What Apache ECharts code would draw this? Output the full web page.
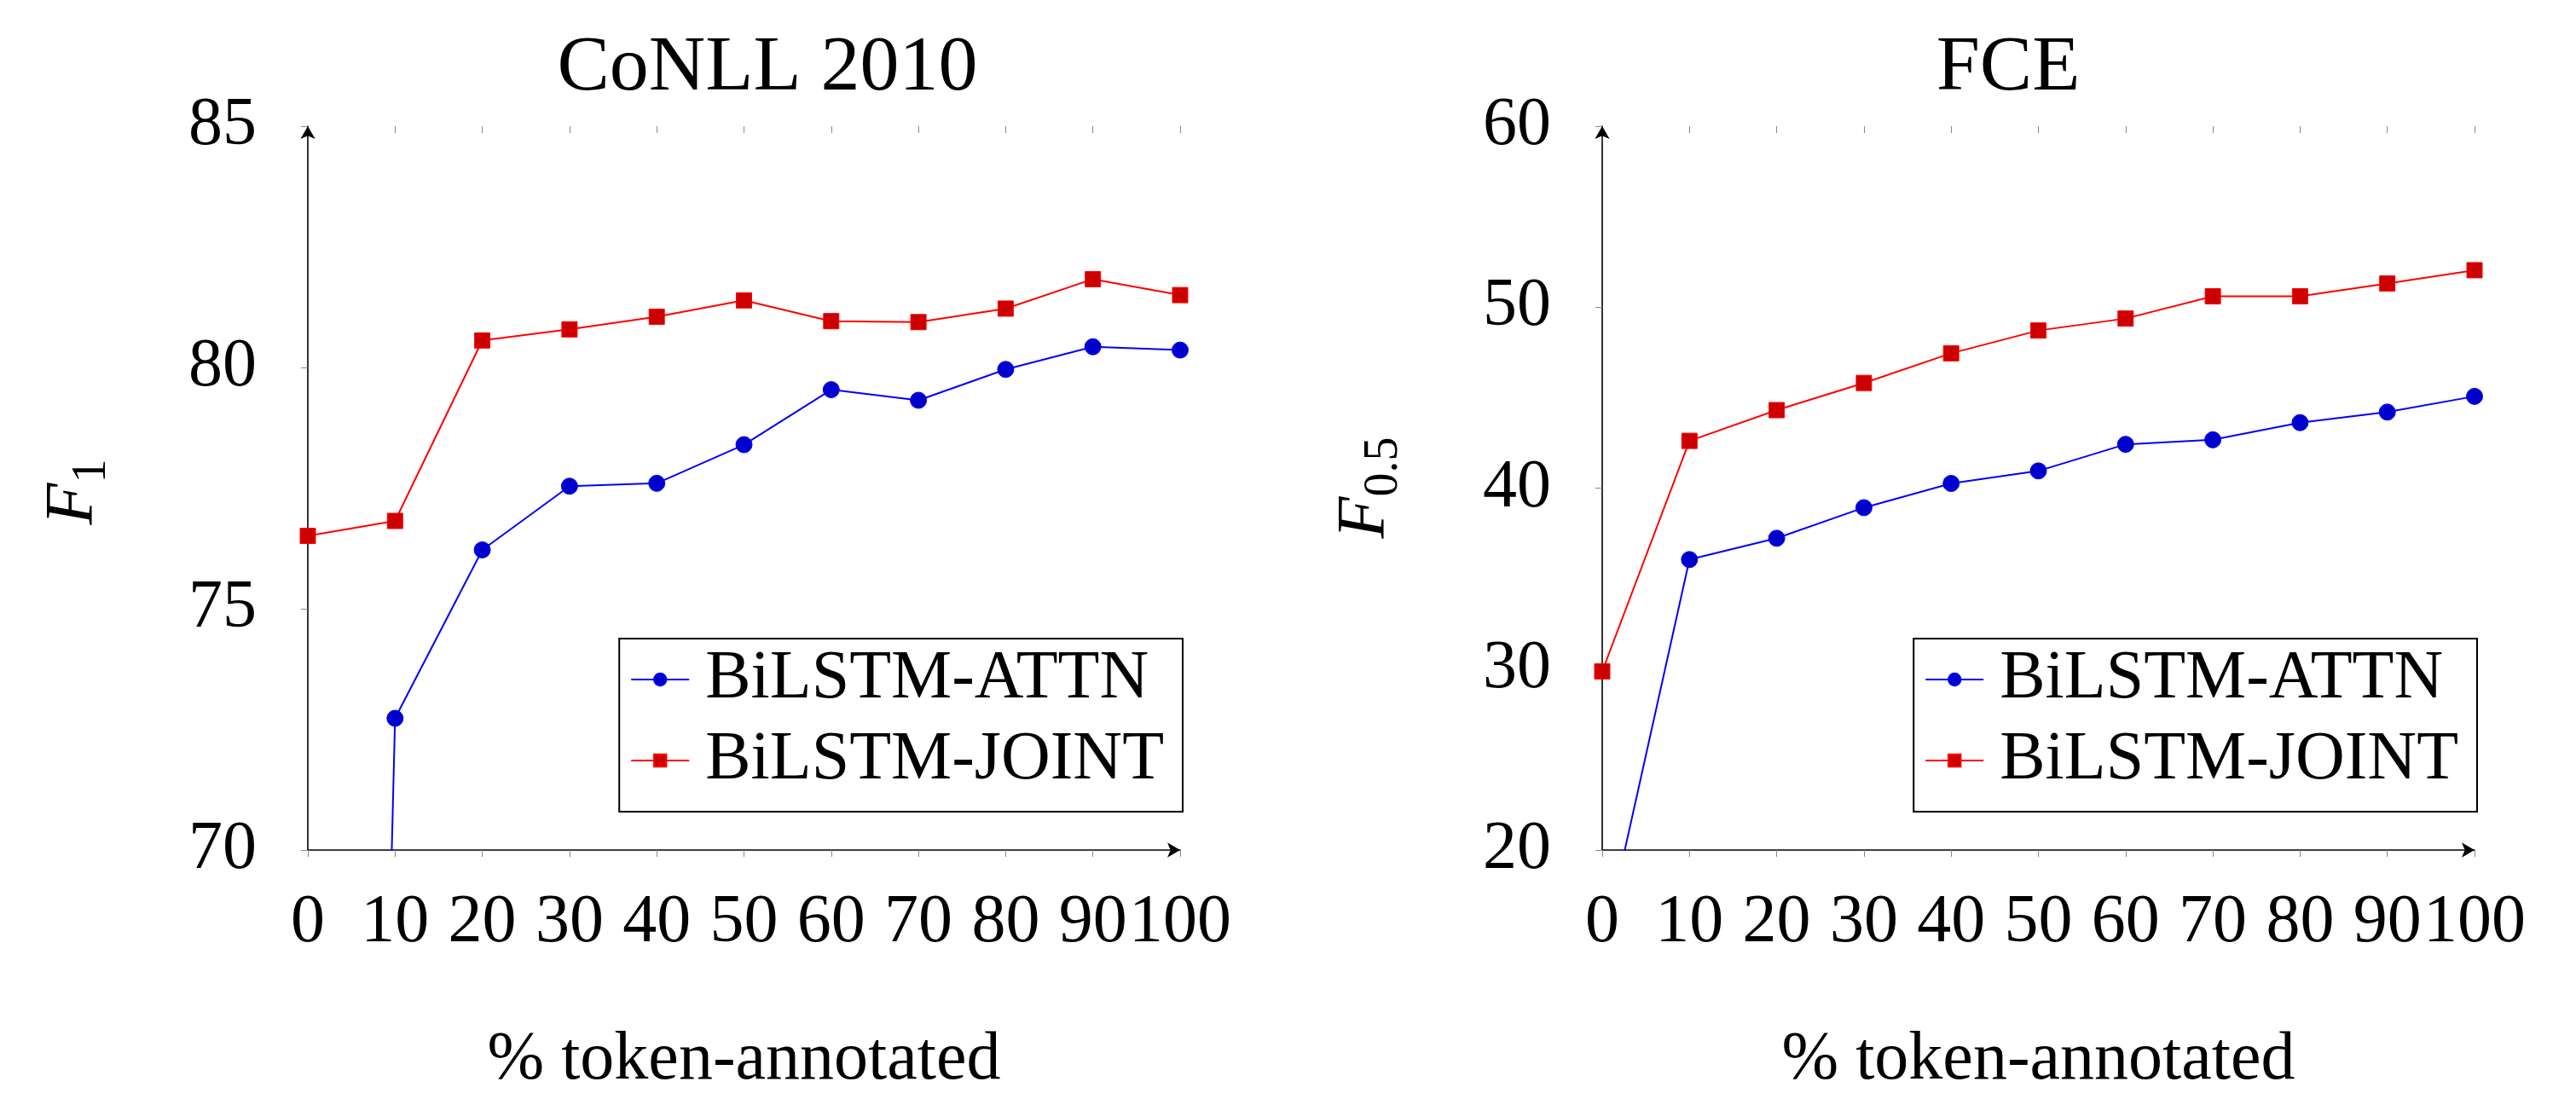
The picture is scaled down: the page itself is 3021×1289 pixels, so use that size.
<!DOCTYPE html>
<html>
<head>
<meta charset="utf-8">
<title>token-annotated</title>
<script src="https://cdn.jsdelivr.net/npm/echarts@6/dist/echarts.min.js"></script>
<style>
  html, body { margin: 0; padding: 0; background: #fff; }
  #main { width: 3021px; height: 1289px; }
</style>
</head>
<body>
<div id="main"></div>
<script>
// % of token-annotated data
const pct = [0, 10, 20, 30, 40, 50, 60, 70, 80, 90, 100];

// CoNLL 2010, F1
const conllAttn = [0, 72.73, 76.22, 77.54, 77.6, 78.4, 79.54, 79.32, 79.96, 80.43, 80.36];
const conllJoint = [76.51, 76.82, 80.56, 80.79, 81.05, 81.39, 80.96, 80.94, 81.22, 81.83, 81.5];

// FCE, F0.5
const fceAttn = [14.4, 36.05, 37.23, 38.92, 40.26, 40.95, 42.42, 42.67, 43.62, 44.2, 45.07];
const fceJoint = [29.87, 42.61, 44.31, 45.81, 47.45, 48.71, 49.37, 50.6, 50.6, 51.31, 52.04];

const seriesNames = ["BiLSTM-ATTN", "BiLSTM-JOINT"];
const titles = ["CoNLL 2010", "FCE"];
const xName = "% token-annotated";

const FONT = "Liberation Serif";
const chart = echarts.init(document.getElementById("main"));

const pairs = (ys) => pct.map((x, i) => [x, ys[i]]);

// main axis (line, outer ticks, labels) + a second one only for the inner half of the ticks
function xAxes(grid, name) {
  return [
    {
      type: "value", gridIndex: grid, min: 0, max: 100, interval: 10,
      name: name, nameLocation: "middle", nameGap: 207,
      nameTextStyle: { fontFamily: FONT, fontSize: 80, color: "#000" },
      axisLine: { show: true, symbol: ["none", "arrow"], symbolSize: [13, 15],
        lineStyle: { color: "#000", width: 1.6 } },
      axisTick: { show: true, inside: false, length: 8, lineStyle: { color: "#888", width: 1 } },
      axisLabel: { margin: 46, fontFamily: FONT, fontSize: 80, color: "#000", hideOverlap: false },
      splitLine: { show: false },
    },
    {
      type: "value", gridIndex: grid, min: 0, max: 100, interval: 10,
      axisLine: { show: false },
      axisTick: { show: true, inside: true, length: 8, lineStyle: { color: "#888", width: 1 } },
      axisLabel: { show: false },
      splitLine: { show: false },
    },
  ];
}

function yAxes(grid, min, max, step) {
  return [
    {
      type: "value", gridIndex: grid, min: min, max: max, interval: step,
      axisLine: { show: true, symbol: ["none", "arrow"], symbolSize: [13, 15],
        lineStyle: { color: "#000", width: 1.6 } },
      axisTick: { show: true, inside: false, length: 8, lineStyle: { color: "#888", width: 1 } },
      axisLabel: { margin: 60, fontFamily: FONT, fontSize: 80, color: "#000" },
      splitLine: { show: false },
    },
    {
      type: "value", gridIndex: grid, min: min, max: max, interval: step,
      axisLine: { show: false },
      axisTick: { show: true, inside: true, length: 8, lineStyle: { color: "#888", width: 1 } },
      axisLabel: { show: false },
      splitLine: { show: false },
    },
  ];
}

function lineSeries(name, data, axis, color, fill, symbol, size) {
  return {
    name: name,
    type: "line",
    xAxisIndex: axis,
    yAxisIndex: axis,
    data: pairs(data),
    symbol: symbol,
    symbolSize: size,
    clip: true,
    lineStyle: { color: color, width: 2 },
    itemStyle: { color: fill, borderColor: color, borderWidth: 1 },
  };
}

function legendAt(right) {
  return {
    data: seriesNames,
    orient: "vertical",
    right: right,
    top: 749,
    padding: [8, 22, 20, 13],
    itemGap: 15,
    itemWidth: 68,
    itemHeight: 18,
    borderColor: "#000",
    borderWidth: 2,
    borderRadius: 0,
    selectedMode: false,
    textStyle: { fontFamily: FONT, fontSize: 80, color: "#000", padding: [0, 0, 0, 14] },
  };
}

function yName(x, y, sub) {
  return {
    type: "text",
    x: x,
    y: y,
    rotation: Math.PI / 2,
    style: {
      text: "{f|F}{s|" + sub + "}",
      align: "center",
      verticalAlign: "middle",
      fill: "#000",
      rich: {
        f: { fontFamily: FONT, fontStyle: "italic", fontSize: 80, verticalAlign: "middle" },
        s: { fontFamily: FONT, fontSize: 56, padding: [43, 0, 0, 0], verticalAlign: "middle" },
      },
    },
  };
}

function titleText(x, text) {
  return {
    type: "text",
    x: x,
    y: 81,
    style: { text: text, fontFamily: FONT, fontSize: 92, fill: "#000",
      align: "center", verticalAlign: "middle" },
  };
}

const option = {
  animation: false,
  backgroundColor: "#fff",
  grid: [
    { left: 361, top: 148, width: 1023, height: 858 },
    { left: 1879, top: 148, width: 1023, height: 858 },
  ],
  xAxis: [...xAxes(0, xName), ...xAxes(1, xName)],
  yAxis: [...yAxes(0, 70, 85, 5), ...yAxes(1, 20, 60, 10)],
  legend: [legendAt(3021 - 1387), legendAt(3021 - 2905)],
  graphic: [
    titleText(900, titles[0]),
    titleText(2355, titles[1]),
    yName(87, 577, "1"),
    yName(1602, 572, "0.5"),
  ],
  series: [
    lineSeries(seriesNames[0], conllAttn, 0, "#0000ff", "#0000cc", "circle", 19),
    lineSeries(seriesNames[1], conllJoint, 0, "#ff0000", "#cc0000", "rect", 18),
    lineSeries(seriesNames[0], fceAttn, 2, "#0000ff", "#0000cc", "circle", 19),
    lineSeries(seriesNames[1], fceJoint, 2, "#ff0000", "#cc0000", "rect", 18),
  ],
};

chart.setOption(option);
</script>
</body>
</html>
